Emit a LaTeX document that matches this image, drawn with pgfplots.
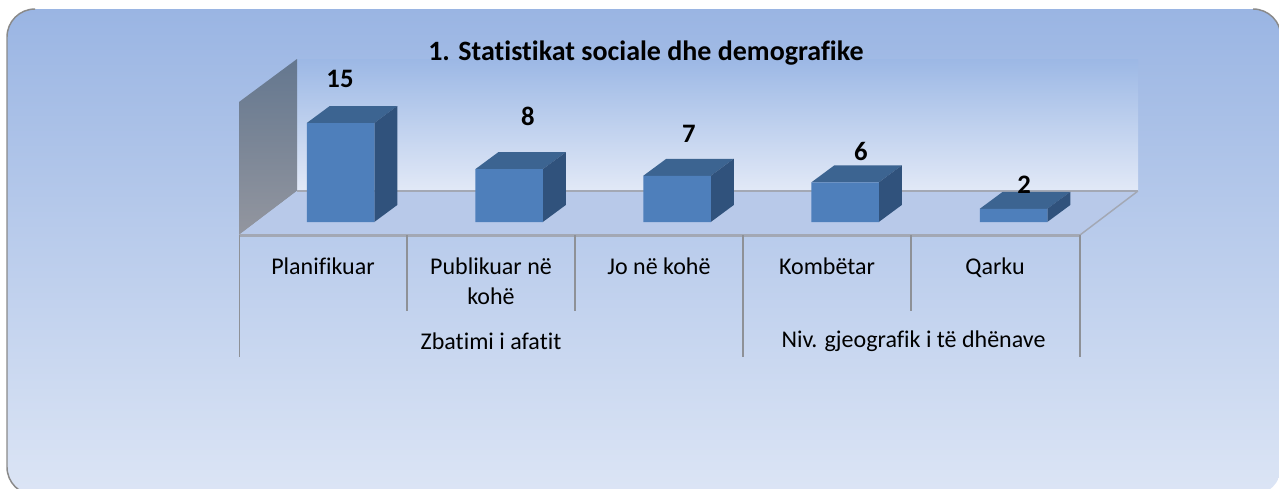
\documentclass[border=0pt]{standalone}
\usepackage{fontspec}
\setmainfont[Ligatures=NoCommon]{Carlito}
\usepackage{pgfplots}
\pgfplotsset{compat=1.18}
\definecolor{bgtop}{HTML}{9AB5E3}
\definecolor{bgmid}{HTML}{BBCCEB}
\definecolor{bgbot}{HTML}{DCE5F5}
\definecolor{walltop}{HTML}{9CB8E5}
\definecolor{wallbot}{HTML}{E2E9F7}
\definecolor{sidetop}{HTML}{64778F}
\definecolor{sidebot}{HTML}{93969F}
\definecolor{floorc}{HTML}{B8C9E9}
\definecolor{rim}{HTML}{A3A8B4}
\definecolor{tickc}{HTML}{8E9197}
\definecolor{edgec}{HTML}{8A8A8A}
\definecolor{barfront}{HTML}{4E7FBB}
\definecolor{bartop}{HTML}{3C6491}
\definecolor{barside}{HTML}{30527C}
% one px of the reference is 0.75pt here
\pgfplotsset{canvas/.style={width=959.25pt, height=366.75pt, scale only axis, at={(0,0)}, anchor=south west,
  xmin=0, xmax=1279, axis line style={draw=none}, xtick=\empty, ytick=\empty, clip=false}}
% xr, xr+depth, xl, xl+depth, value, value+depth
\newcommand\cubefaces[6]{
  \addplot[fill=bartop, draw=none] coordinates {(#3,#5)(#1,#5)(#2,#6)(#4,#6)};
  \addplot[fill=barside, draw=none] coordinates {(#1,0)(#2,2.576)(#2,#6)(#1,#5)};
}
\begin{document}
\begin{tikzpicture}
% pixel axis: background, walls, floor, dividers and group labels
\begin{axis}[canvas, ymin=0, ymax=489, y dir=reverse]
\path[top color=bgtop, middle color=bgmid, bottom color=bgbot, rounded corners=21pt] (axis cs:7,9) rectangle (axis cs:1281,495);
\draw[edgec, line width=1.1pt, rounded corners=21pt] (axis cs:35,9) -- (axis cs:7,9) -- (axis cs:7,495) -- (axis cs:35,495);
\draw[edgec, line width=1.1pt, rounded corners=21pt] (axis cs:1253,9) -- (axis cs:1281,9) -- (axis cs:1281,37);
\path[top color=walltop, bottom color=wallbot] (axis cs:297,59) rectangle (axis cs:1138,191);
\path[top color=sidetop, bottom color=sidebot] (axis cs:239,102) -- (axis cs:297,59) -- (axis cs:297,191) -- (axis cs:239,235) -- cycle;
\fill[floorc] (axis cs:239,235) -- (axis cs:297,191) -- (axis cs:1138,191) -- (axis cs:1080,235) -- cycle;
\draw[rim, line width=2.2pt] (axis cs:297,191) -- (axis cs:1138,191);
\draw[rim, line width=2.2pt] (axis cs:239,235.5) -- (axis cs:1080,235.5);
\draw[rim, line width=1.1pt] (axis cs:1080,235) -- (axis cs:1138,191);
\draw[tickc, line width=1.1pt] (axis cs:239.5,235) -- (axis cs:239.5,357);
\draw[tickc, line width=1.1pt] (axis cs:743,235) -- (axis cs:743,357);
\draw[tickc, line width=1.1pt] (axis cs:1080,235) -- (axis cs:1080,357);
\draw[tickc, line width=1.1pt] (axis cs:407,235) -- (axis cs:407,311);
\draw[tickc, line width=1.1pt] (axis cs:575,235) -- (axis cs:575,311);
\draw[tickc, line width=1.1pt] (axis cs:911,235) -- (axis cs:911,311);
\node[font=\fontsize{18}{22}\selectfont] at (axis cs:491,341) {Zbatimi i afatit};
\node[font=\fontsize{18}{22}\selectfont] at (axis cs:913.5,341) {Niv. gjeografik i të dhënave};
\end{axis}
% value axis: x still in px, y in counts (6.6 px per unit, zero at px 222)
\begin{axis}[canvas, ymin=-40.45, ymax=33.64,
  xtick={323,491,659,827,995},
  xticklabels={Planifikuar,Publikuar në\\kohë,Jo në kohë,Kombëtar,Qarku},
  major tick length=0pt,
  xticklabel style={align=center, anchor=north, yshift=177.25pt, font=\fontsize{18}{22.5}\selectfont},
  title={\textbf{1. Statistikat sociale dhe demografike}},
  title style={at={(axis description cs:0.505,0.8745)}, anchor=center, yshift=0pt, font=\fontsize{21}{25}\selectfont}]
\cubefaces{374.25}{397.25}{306.75}{329.75}{15}{17.576}
\cubefaces{542.75}{565.75}{475.25}{498.25}{8}{10.576}
\cubefaces{710.75}{733.75}{643.25}{666.25}{7}{9.576}
\cubefaces{878.75}{901.75}{811.25}{834.25}{6}{8.576}
\cubefaces{1047.25}{1070.25}{979.75}{1002.75}{2}{4.576}
\addplot[ybar, bar width=67.5, fill=barfront, draw=none]
  coordinates {(340.5,15)(509,8)(677,7)(845,6)(1013.5,2)};
\node[font=\fontsize{20}{24}\selectfont\bfseries] at (axis cs:340,21.67) {15};
\node[font=\fontsize{20}{24}\selectfont\bfseries] at (axis cs:528,16.06) {8};
\node[font=\fontsize{20}{24}\selectfont\bfseries] at (axis cs:689,13.33) {7};
\node[font=\fontsize{20}{24}\selectfont\bfseries] at (axis cs:861,10.76) {6};
\node[font=\fontsize{20}{24}\selectfont\bfseries] at (axis cs:1024,5.6) {2};
\end{axis}
\pgfresetboundingbox
\useasboundingbox (0,0) rectangle (959.25pt,366.75pt);
\end{tikzpicture}
\end{document}
